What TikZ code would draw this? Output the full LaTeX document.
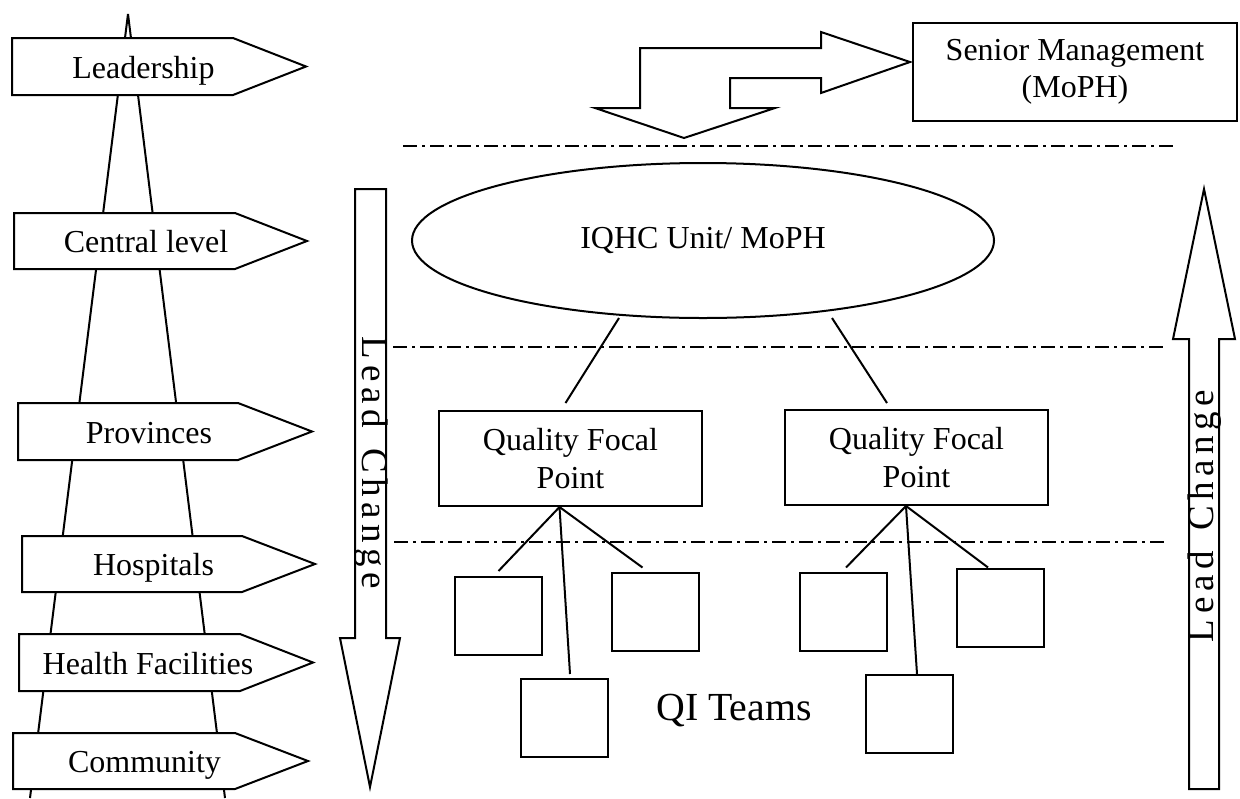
\documentclass[tikz,border=0pt]{standalone}
\usepackage{fontspec}
\setmainfont{Liberation Serif}
\usetikzlibrary{calc,shapes.geometric}
\newcommand\lsp{\kern2.8pt}
\newcommand\spost[8]{%
  \draw[outline] (#2,#3) -- (#4,#3) -- (#6,{(#3+#5)/2}) -- (#4,#5) -- (#2,#5) -- cycle;
  \node[lbl, anchor=base] (#1) at (#7,{(#3+#5)/2+11.5}) {#8};
}
\begin{document}
\begin{tikzpicture}[x=0.5pt,y=-0.5pt,
  line join=miter,
  outline/.style={draw=black, fill=white, line width=1pt},
  box/.style={draw=black, fill=white, rectangle, inner sep=0pt, line width=1pt},
  team/.style={box, minimum width=43.5pt, minimum height=39pt},
  lbl/.style={font=\fontsize{16}{19}\selectfont, inner sep=0pt},
  sep/.style={line width=1pt, dash pattern=on 7pt off 2.5pt on 1.5pt off 2.5pt},
  conn/.style={line width=1pt},
  bigtxt/.style={font=\fontsize{19.9}{23}\selectfont, inner sep=0pt},
  lctxt/.style={font=\fontsize{18.5}{22}\selectfont, inner sep=0pt},
]
\useasboundingbox (0,0) rectangle (1240,798);

% tower behind the signposts
\coordinate (apex) at (128,14);
\coordinate (bl) at (30,798);
\coordinate (br) at (225,798);
\draw[conn] (apex) -- (bl);
\draw[conn] (apex) -- (br);

% signposts
\spost{lead}{12}{38}{233}{95}{306}{143.5}{Leadership}
\spost{central}{14}{213}{235}{269}{307}{146}{Central level}
\spost{prov}{18}{403}{238}{460}{312}{149}{Provinces}
\spost{hosp}{22}{536}{242}{592}{315}{153.5}{Hospitals}
\spost{hf}{19}{634}{240}{691}{313}{148}{Health Facilities}
\spost{comm}{13}{733}{235}{789}{308}{144.5}{Community}

% left Lead Change arrow (down)
\draw[outline] (355,189) -- (386,189) -- (386,638) -- (400,638) -- (370,787) -- (340,638) -- (355,638) -- cycle;
\node[lctxt, rotate=-90] (lcl) at (371,463) {L\lsp e\lsp a\lsp d\lsp\ \lsp C\lsp h\lsp a\lsp n\lsp g\lsp e};

% right Lead Change arrow (up)
\draw[outline] (1189,789) -- (1219,789) -- (1219,339) -- (1235,339) -- (1204,189) -- (1173,339) -- (1189,339) -- cycle;
\node[lctxt, rotate=90] (lcr) at (1205,516) {L\lsp e\lsp a\lsp d\lsp\ \lsp C\lsp h\lsp a\lsp n\lsp g\lsp e};

% bent two-headed arrow
\draw[outline] (595,108) -- (684,138) -- (775,108) -- (730,108) -- (730,78) -- (821,78) -- (821,93)
  -- (910,62) -- (821,32) -- (821,48) -- (640,48) -- (640,108) -- cycle;

% senior management
\node[box, lbl, minimum width=162pt, minimum height=49pt, align=center] (senior) at (1075,72)
  {Senior Management\\[-0.5pt](MoPH)};

% separators
\coordinate (s1a) at (403,146); \coordinate (s1b) at (1175,146);
\coordinate (s2a) at (393,347); \coordinate (s2b) at (1165,347);
\coordinate (s3a) at (394,542); \coordinate (s3b) at (1168,542);
\draw[sep] (s1a) -- (s1b);
\draw[sep] (s2a) -- (s2b);
\draw[sep] (s3a) -- (s3b);

% IQHC ellipse
\node[draw=black, line width=1pt, ellipse, inner sep=0pt, minimum width=291pt, minimum height=77.5pt,
  font=\fontsize{16}{19}\selectfont, text height=7.5pt, text depth=0pt] (iqhc) at (703,240.5) {IQHC Unit/ MoPH};

% quality focal points
\node[box, lbl, minimum width=131.5pt, minimum height=47.5pt, align=center] (q1) at (570.5,458.5) {Quality Focal\\Point};
\node[box, lbl, minimum width=131.5pt, minimum height=47.5pt, align=center] (q2) at (916.5,457.5) {Quality Focal\\Point};

\draw[conn] ($(iqhc.center)+(-84,77.5)$) -- ($(q1.north)+(-5,-7)$);
\draw[conn] ($(iqhc.center)+(129,77.5)$) -- ($(q2.north)+(-29.5,-6)$);

% QI teams
\node[team] (l1) at (498.5,616) {};
\node[team] (l2) at (564.5,718) {};
\node[team] (l3) at (655.5,611.5) {};
\node[team] (r1) at (843,611.5) {};
\node[team] (r2) at (909.5,714) {};
\node[team] (r3) at (1000.5,607.5) {};

\coordinate (q1b) at ($(q1.south)+(-11,0)$);
\coordinate (q2b) at ($(q2.south)+(-10.5,0)$);
\draw[conn] (q1b) -- ($(l1.north)+(0,-5)$);
\draw[conn] (q1b) -- ($(l2.north)+(5.5,-4)$);
\draw[conn] (q1b) -- ($(l3.north)+(-13,-4)$);
\draw[conn] (q2b) -- ($(r1.north)+(3,-4)$);
\draw[conn] (q2b) -- ($(r2.north)+(7.5,0)$);
\draw[conn] (q2b) -- ($(r3.north)+(-12.5,0)$);

\node[bigtxt, anchor=base] (qi) at (734,720) {QI Teams};
\end{tikzpicture}
\end{document}
